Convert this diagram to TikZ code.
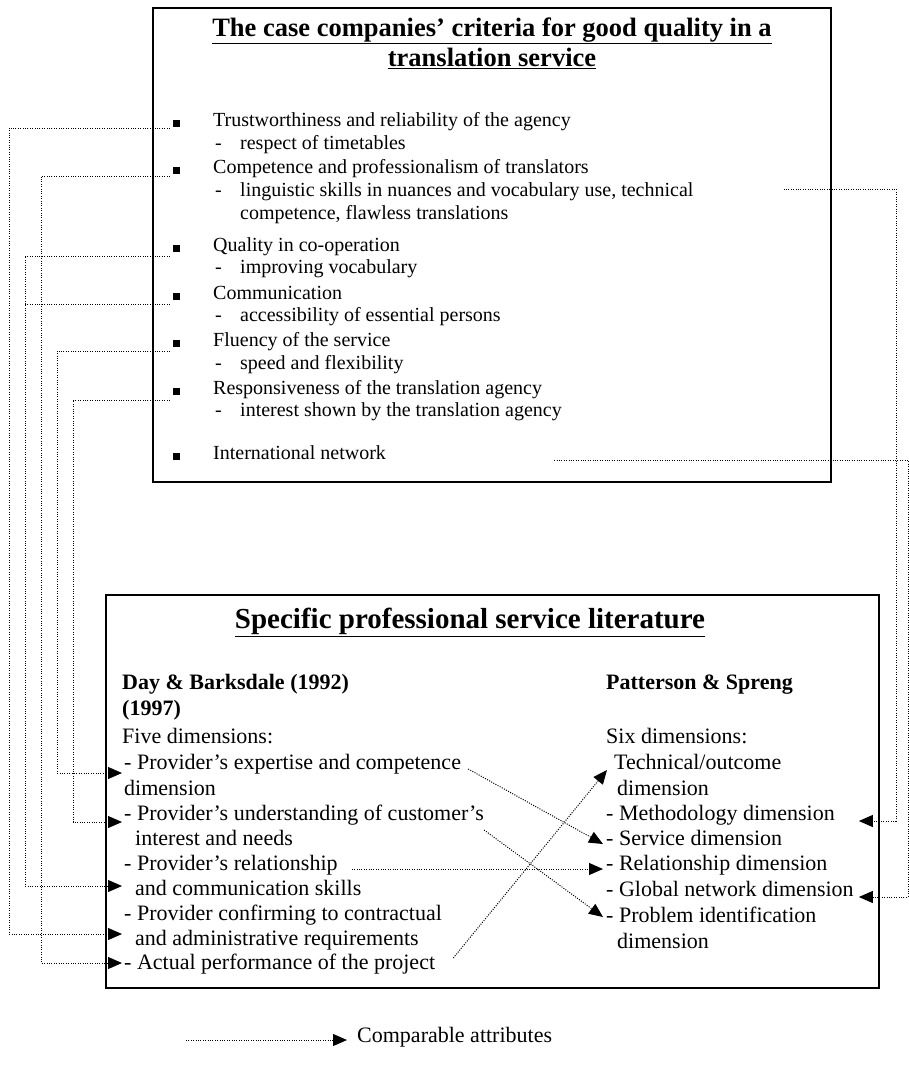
\documentclass[tikz,border=0pt]{standalone}
\usepackage{fontspec}
\setmainfont{Liberation Serif}
\usetikzlibrary{arrows.meta}
\newcommand\topfnt{\fontsize{20}{24}\selectfont}
\newcommand\botfnt{\fontsize{22}{26}\selectfont}
\begin{document}
\begin{tikzpicture}[x=1pt,y=-1pt,
  box/.style={draw,line width=1.6pt},
  ttlA/.style={anchor=center,inner sep=0pt,font=\fontsize{26.5}{30}\selectfont\bfseries},
  ttlB/.style={anchor=center,inner sep=0pt,font=\fontsize{29}{32}\selectfont\bfseries},
  tx/.style={anchor=west,inner sep=0pt,font=\topfnt,text height=0.62em,text depth=0.28em},
  bx/.style={anchor=west,inner sep=0pt,font=\botfnt,text height=0.66em,text depth=0.24em},
  bxb/.style={bx,font=\botfnt\bfseries},
  bul/.style={fill,minimum size=7pt,inner sep=0pt},
  link/.style={line width=1pt,dash pattern=on 1pt off 1.4pt},
  arr/.style={link,-{Triangle[length=14pt,width=12pt]}}
]
\path[use as bounding box] (0,0) rectangle (909,1066);
% boxes
\draw[box] (153,8) rectangle (831,482);
\draw[box] (106,595) rectangle (879,988);
% top box
\node[ttlA] (tt1) at (492,31) {\underline{The case companies’ criteria for good quality in a}};
\node[ttlA] (tt2) at (492,58) {\underline{translation service}};

\node[bul] (b1) at (176,123) {};
\node[tx] (i1) at (213,125) {Trustworthiness and reliability of the agency};
\node[tx] (d1) at (215,148) {-};
\node[tx] (e1) at (240,148) {respect of timetables};
\node[bul] (b2) at (176,170) {};
\node[tx] (i2) at (213,172) {Competence and professionalism of translators};
\node[tx] (d2) at (215,195) {-};
\node[tx] (e2) at (240,195) {linguistic skills in nuances and vocabulary use, technical};
\node[tx] (e2b) at (240,218) {competence, flawless translations};
\node[bul] (b3) at (176,248) {};
\node[tx] (i3) at (213,250) {Quality in co-operation};
\node[tx] (d3) at (215,272) {-};
\node[tx] (e3) at (240,272) {improving vocabulary};
\node[bul] (b4) at (176,296) {};
\node[tx] (i4) at (213,298) {Communication};
\node[tx] (d4) at (215,320) {-};
\node[tx] (e4) at (240,320) {accessibility of essential persons};
\node[bul] (b5) at (176,343) {};
\node[tx] (i5) at (213,345) {Fluency of the service};
\node[tx] (d5) at (215,368) {-};
\node[tx] (e5) at (240,368) {speed and flexibility};
\node[bul] (b6) at (176,391) {};
\node[tx] (i6) at (213,393) {Responsiveness of the translation agency};
\node[tx] (d6) at (215,415) {-};
\node[tx] (e6) at (240,415) {interest shown by the translation agency};
\node[bul] (b7) at (176,456) {};
\node[tx] (i7) at (213,458) {International network};

% bottom box
\node[ttlB] (bt) at (470,622) {\underline{Specific professional service literature}};
\node[bxb] (dbA) at (122,687) {Day \& Barksdale (1992)};
\node[bxb] (dbB) at (122,713) {(1997)};
\node[bx] (five) at (122,741) {Five dimensions:};
\node[bx] (L1) at (124,767) {- Provider’s expertise and competence};
\node[bx] (L1b) at (124,793) {dimension};
\node[bx] (L2) at (124,818) {- Provider’s understanding of customer’s};
\node[bx] (L2b) at (135,843) {interest and needs};
\node[bx] (L3) at (124,868) {- Provider’s relationship};
\node[bx] (L3b) at (135,893) {and communication skills};
\node[bx] (L4) at (124,918) {- Provider confirming to contractual};
\node[bx] (L4b) at (135,943) {and administrative requirements};
\node[bx] (L5) at (124,967) {- Actual performance of the project};

\node[bxb] (ps) at (606,687) {Patterson \& Spreng};
\node[bx] (six) at (606,741) {Six dimensions:};
\node[bx] (Rtec) at (614,767) {Technical/outcome};
\node[bx] (Rtecb) at (617,793) {dimension};
\node[bx] (Rmet) at (606,818) {- Methodology dimension};
\node[bx] (Rser) at (606,843) {- Service dimension};
\node[bx] (Rrel) at (606,868) {- Relationship dimension};
\node[bx] (Rglo) at (606,894) {- Global network dimension};
\node[bx] (Rpro) at (606,920) {- Problem identification};
\node[bx] (Rprob) at (617,946) {dimension};

% legend
\node[bx] (leg) at (357,1040) {Comparable attributes};
\coordinate (legS) at (186,1040);
\draw[arr] (legS) -- ([xshift=-10pt]leg.west);

% columns
\coordinate (cA) at (9,0);
\coordinate (cB) at (25,0);
\coordinate (cC) at (41,0);
\coordinate (cD) at (57,0);
\coordinate (cE) at (73,0);
\coordinate (cR1) at (896,0);
\coordinate (cR2) at (908,0);
% starts at bullets
\coordinate (s1) at ([xshift=-6pt,yshift=-5pt]b1.center);
\coordinate (s2) at ([xshift=-6pt,yshift=-6pt]b2.center);
\coordinate (s3) at ([xshift=-6pt,yshift=-8pt]b3.center);
\coordinate (s4) at ([xshift=-6pt,yshift=-8pt]b4.center);
\coordinate (s5) at ([xshift=-6pt,yshift=-8pt]b5.center);
\coordinate (s6) at ([xshift=-6pt,yshift=-9pt]b6.center);
% arrow tips on the left
\coordinate (k1) at ([xshift=-2pt,yshift=-6pt]L1.west);
\coordinate (k2) at ([xshift=-2pt,yshift=-4pt]L2.west);
\coordinate (k3) at ([xshift=-2pt,yshift=-18pt]L3.west);
\coordinate (k4) at ([xshift=-2pt,yshift=-16pt]L4.west);
\coordinate (k5) at ([xshift=-2pt,yshift=4pt]L5.west);

\draw[arr] (s1) -- (s1 -| cA) |- (k4);
\draw[arr] (s2) -- (s2 -| cC) |- (k5);
\draw[arr] (s3) -- (s3 -| cB) |- (k3);
\draw[link] (s4) -- (s4 -| cB);
\draw[arr] (s5) -- (s5 -| cD) |- (k1);
\draw[arr] (s6) -- (s6 -| cE) |- (k2);

% right side
\coordinate (r1) at ([xshift=90pt,yshift=6pt]e2.east);
\coordinate (r2) at ([xshift=168pt,yshift=-2pt]i7.east);
\coordinate (m2) at ([xshift=5pt,yshift=-3pt]Rglo.east);
\coordinate (m1) at (m2 |- Rmet);
\draw[arr] (r1) -- (r1 -| cR1) |- ([yshift=-3pt]m1);
\draw[arr] (r2) -- (r2 -| cR2) |- (m2);

% crossing arrows
\draw[arr] ([xshift=7pt,yshift=-2pt]L1.east) -- ([xshift=-3pt,yshift=-1pt]Rser.west);
\draw[arr] ([xshift=0pt,yshift=-12pt]L2.east) -- ([xshift=-3pt,yshift=3pt]Rpro.west);
\draw[arr] ([xshift=14pt,yshift=-1pt]L3.east) -- ([xshift=-3pt,yshift=-1pt]Rrel.west);
\draw[arr] ([xshift=18pt,yshift=9pt]L5.east) -- ([xshift=-7pt,yshift=-3pt]Rtec.west);
\end{tikzpicture}
\end{document}
